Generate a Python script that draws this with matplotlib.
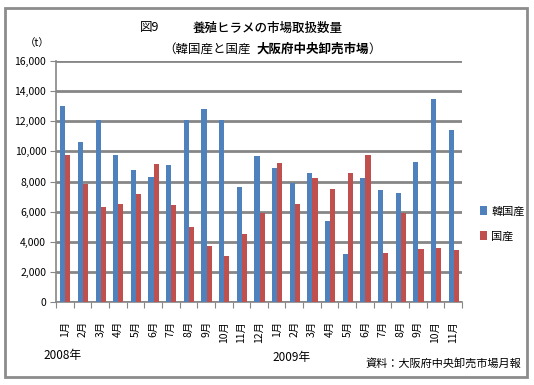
import matplotlib
matplotlib.use("Agg")
import matplotlib.pyplot as plt
import numpy as np
from matplotlib.patches import Rectangle

plt.rcParams['font.family'] = ['Noto Sans CJK JP', 'DejaVu Sans']

months = ["1月", "2月", "3月", "4月", "5月", "6月", "7月", "8月", "9月", "10月", "11月", "12月",
          "1月", "2月", "3月", "4月", "5月", "6月", "7月", "8月", "9月", "10月", "11月"]
korea = [13000, 10600, 12050, 9750, 8750, 8300, 9100, 12050, 12800, 12050, 7620, 9700,
         8900, 7900, 8550, 5370, 3170, 8220, 7430, 7230, 9290, 13470, 11420]
domestic = [9750, 7820, 6300, 6490, 7160, 9150, 6430, 4970, 3700, 3040, 4500, 5900,
            9220, 6490, 8220, 7490, 8560, 9750, 3240, 5900, 3500, 3570, 3440]
yticks = [0, 2000, 4000, 6000, 8000, 10000, 12000, 14000, 16000]

W, H = 534, 385
fig = plt.figure(figsize=(W/100, H/100), dpi=100)
fig.patches.append(Rectangle((5/W, 8/H), 522/W, 369/H, transform=fig.transFigure,
                             fill=False, edgecolor='#8c8c8c', linewidth=2))

ax = fig.add_axes([56/W, 1 - 302/H, 406/W, 241/H])
x = np.arange(len(months))
bw = 0.29
ax.bar(x - bw/2 + 0.03, korea, bw, color='#4F81BD', label='韓国産', zorder=3)
ax.bar(x + bw/2 + 0.03, domestic, bw, color='#C0504D', label='国産', zorder=3)
ax.set_xlim(-0.5, len(months) - 0.5)
ax.set_ylim(0, 16000)
ax.set_yticks(yticks)
ax.set_yticklabels([f"{v:,}" for v in yticks], fontsize=7.5)
ax.yaxis.grid(True, color='#868686', linewidth=2, zorder=0)
ax.set_axisbelow(True)
for s in ['top', 'right']:
    ax.spines[s].set_visible(False)
ax.spines['left'].set_color('#868686')
ax.spines['bottom'].set_color('#868686')
ax.spines['left'].set_linewidth(1.2)
ax.spines['bottom'].set_linewidth(1.2)
ax.tick_params(axis='y', length=4, color='#868686', pad=3)
ax.set_xticks(np.arange(len(months) + 1) - 0.5)
ax.set_xticklabels([])
ax.tick_params(axis='x', length=4, color='#868686')
for i, m in enumerate(months):
    ax.text(i, -1250, m, rotation=90, ha='center', va='top', fontsize=7.5)

fig.text(140/W, 1 - 28/H, "図9", fontsize=9, ha='left', va='center')
fig.text(268/W, 1 - 28/H, "養殖ヒラメの市場取扱数量", fontsize=9, ha='center', va='center',
         fontweight='medium')
mid = fig.text(256/W, 1 - 49/H, "大阪府中央卸売市場", fontsize=9, ha='left', va='center',
               fontweight='bold')
ax.annotate("（韓国産と国産", xy=(0, 0.5), xycoords=mid, xytext=(-4, 0),
            textcoords='offset points', fontsize=9, ha='right', va='center',
            annotation_clip=False)
ax.annotate("）", xy=(1, 0.5), xycoords=mid, xytext=(0, 0),
            textcoords='offset points', fontsize=9, ha='left', va='center',
            annotation_clip=False)
fig.text(37/W, 1 - 43/H, "（t）", fontsize=7.5, ha='center', va='center')
fig.text(43/W, 1 - 356/H, "2008年", fontsize=8.5, ha='left', va='center')
fig.text(272/W, 1 - 358/H, "2009年", fontsize=8.5, ha='left', va='center')
fig.text(366/W, 1 - 363/H, "資料：大阪府中央卸売市場月報", fontsize=8, ha='left', va='center')

fig.legend(loc='upper left', bbox_to_anchor=(470/W, 1 - 196/H), frameon=False,
           fontsize=8, handlelength=0.6, handleheight=0.9, labelspacing=1.3, handletextpad=0.4)

fig.savefig("out.png", dpi=100)
